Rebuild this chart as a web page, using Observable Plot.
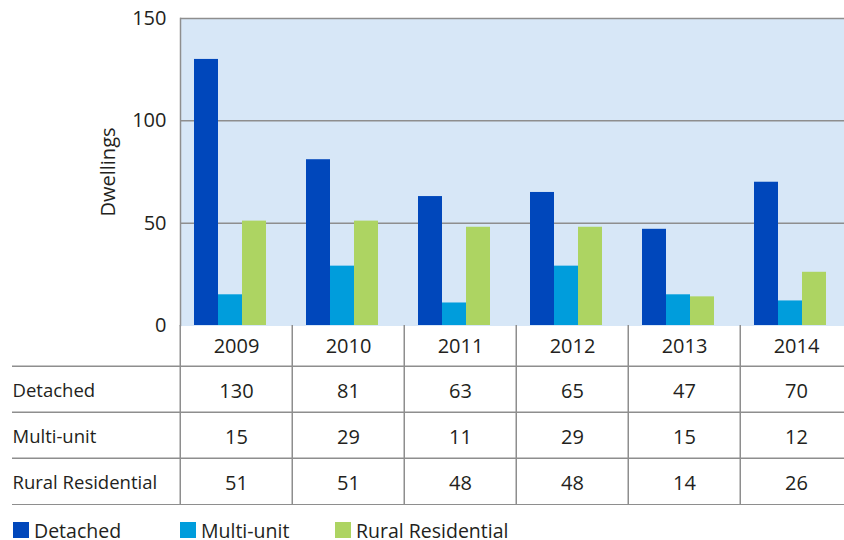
<!DOCTYPE html>
<html><head><meta charset="utf-8">
<script src="https://cdn.jsdelivr.net/npm/d3@7"></script>
<script src="https://cdn.jsdelivr.net/npm/@observablehq/plot@0.6"></script>
<style>
html,body{margin:0;padding:0;background:#fff;overflow:hidden;}
#chart{width:844px;font-family:"Open Sans",Lato,sans-serif;color:#231f20;}
#chart svg{display:block;}
#chart svg.tbl{margin-top:-20px;}
.lg-swatches-wrap{display:flex;align-items:center;min-height:0;height:34px;margin:8px 0 0 0;padding-left:13px;font-family:"Open Sans",Lato,sans-serif;font-size:19.5px;color:#231f20;}
.lg-swatch{margin-right:0 !important;}
.lg-swatch svg{margin-right:5px !important;}
.lg-swatch:nth-of-type(1){width:167px;}
.lg-swatch:nth-of-type(2){width:155px;}
</style></head><body><div id="chart"></div>
<script>
const years = ["2009","2010","2011","2012","2013","2014"];
const series = ["Detached","Multi-unit","Rural Residential"];
const detached = [130,81,63,65,47,70];
const multiUnit = [15,29,11,29,15,12];
const rural = [51,51,48,48,14,26];
const colors = ["#0047bb","#009ddc","#add462"];
const yTicks = [0,50,100,150];

const valuesBySeries = [detached, multiUnit, rural];
const rows = series.flatMap((s, si) => years.map((y, yi) => ({year: y, series: s, value: valuesBySeries[si][yi]})));

const font = "'Open Sans', Lato, sans-serif";
const ink = "#231f20";
const lineGray = "#8e8e8e";

const chart = Plot.plot({
  width: 844, height: 345,
  marginTop: 18, marginBottom: 20, marginLeft: 178, marginRight: -9,
  style: {fontFamily: font, color: ink, background: "transparent"},
  fx: {domain: years, padding: 0, axis: null},
  x: {domain: series, paddingInner: 0, paddingOuter: 0.75, align: 0.34, axis: null},
  y: {domain: [0, 150]},
  color: {domain: series, range: colors},
  marks: [
    Plot.frame({fill: "#d7e7f7", stroke: null, shapeRendering: "crispEdges"}),
    Plot.gridY(yTicks.filter(d => d > 0), {stroke: lineGray, strokeOpacity: 1, strokeWidth: 1.5}),
    Plot.barY(rows, {fx: "year", x: "series", y: "value", fill: "series"}),
    Plot.axisY(yTicks, {tickSize: 0, tickPadding: 14, fontSize: 20, fill: ink, label: "Dwellings", labelAnchor: "center", labelOffset: 80, labelArrow: "none"}),
    Plot.frame({anchor: "left", facetAnchor: "left", stroke: lineGray, strokeWidth: 1.5})
  ]
});

const colW = 675 / years.length;
const rowH = 140 / series.length;
const table = Plot.plot({
  width: 844, height: 180,
  marginTop: 0, marginBottom: 0, marginLeft: 12, marginRight: 0,
  style: {fontFamily: font, color: ink, background: "transparent"},
  x: {type: "band", domain: years, range: [178, 853], padding: 0, axis: null},
  y: {type: "band", domain: series, range: [40, 180], padding: 0, axis: null},
  marks: [
    Plot.ruleX(years, {x: d => d, dx: -colW / 2, stroke: lineGray, strokeWidth: 1.5}),
    Plot.ruleY(series, {y: d => d, dy: -rowH / 2, stroke: lineGray, strokeWidth: 1.5}),
    Plot.ruleY(series.slice(-1), {y: d => d, dy: rowH / 2, stroke: lineGray, strokeWidth: 1.5}),
    Plot.text(years, {x: d => d, frameAnchor: "top", lineAnchor: "middle", dy: 21, fontSize: 20, fill: ink, text: d => d}),
    Plot.text(rows, {x: "year", y: "series", dy: 2, text: d => String(d.value), fontSize: 20, fill: ink}),
    Plot.text(series, {y: d => d, dy: 2, frameAnchor: "left", textAnchor: "start", fontSize: 18.5, fill: ink, text: d => d})
  ]
});
table.classList.add("tbl");

const legend = Plot.legend({color: {domain: series, range: colors}, legend: "swatches", swatchSize: 16, className: "lg"});

const root = document.getElementById("chart");
root.append(chart, table, legend);
</script></body></html>
